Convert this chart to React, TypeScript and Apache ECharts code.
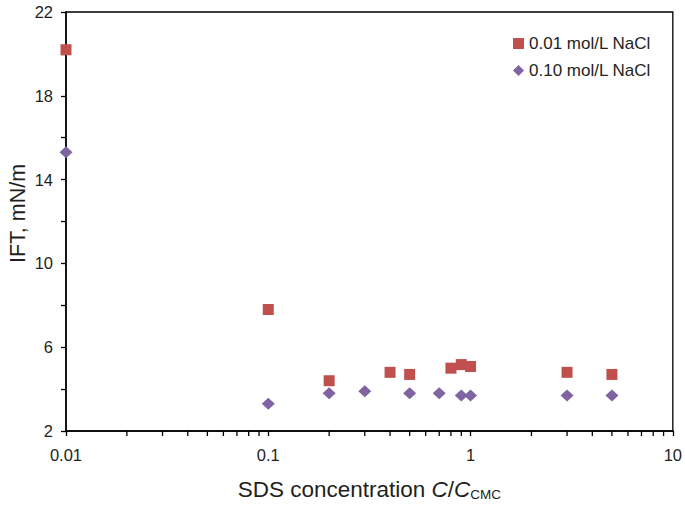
import React, { useEffect, useRef } from "react";
import * as echarts from "echarts";

const seriesNames = ["0.01 mol/L NaCl", "0.10 mol/L NaCl"];
const xLow = [0.01, 0.1, 0.2, 0.4, 0.5, 0.8, 0.9, 1.0, 3, 5];
const yLow = [20.2, 7.8, 4.4, 4.8, 4.7, 5.0, 5.17, 5.08, 4.8, 4.7];
const xHigh = [0.01, 0.1, 0.2, 0.3, 0.5, 0.7, 0.9, 1.0, 3, 5];
const yHigh = [15.3, 3.3, 3.8, 3.9, 3.8, 3.8, 3.7, 3.7, 3.7, 3.7];
const xMinorTicks = [
  0.02, 0.03, 0.04, 0.05, 0.06, 0.07, 0.08, 0.09,
  0.2, 0.3, 0.4, 0.5, 0.6, 0.7, 0.8, 0.9,
  2, 3, 4, 5, 6, 7, 8, 9,
];
const xMin = 0.01;
const xMax = 10;
const yMin = 2;
const yMax = 22;
const yInterval = 4;

const FONT = "Liberation Sans, Arial, Helvetica, sans-serif";
const TXT = "#231f20";

export default function App() {
  const ref = useRef<HTMLDivElement>(null);
  useEffect(() => {
    if (!ref.current) return;
    const chart = echarts.init(ref.current, undefined, { renderer: "svg" });
    const fmt = (v: number) => String(parseFloat(Number(v).toPrecision(4)));
    chart.setOption({
      animation: false,
      backgroundColor: "#fff",
      grid: {
        left: 66,
        right: 12,
        top: 12,
        bottom: 72,
        show: true,
        borderColor: "#000",
        borderWidth: 1.3,
        backgroundColor: "transparent",
      },
      legend: {
        orient: "vertical",
        left: 513,
        top: 35,
        padding: 0,
        itemGap: 10,
        itemWidth: 11,
        itemHeight: 11,
        textStyle: { fontFamily: FONT, fontSize: 17, color: TXT },
        data: [
          { name: seriesNames[0], icon: "rect" },
          { name: seriesNames[1], icon: "diamond" },
        ],
      },
      xAxis: {
        type: "log",
        logBase: 10,
        min: xMin,
        max: xMax,
        name: "{n|SDS concentration }{i|C}{n|/}{i|C}{s|CMC}",
        nameLocation: "middle",
        nameGap: 47,
        nameTextStyle: {
          rich: {
            n: { fontFamily: FONT, fontSize: 22.5, color: TXT },
            i: { fontFamily: FONT, fontSize: 22.5, fontStyle: "italic", color: TXT },
            s: { fontFamily: FONT, fontSize: 13.5, color: TXT, verticalAlign: "bottom", padding: [8, 0, 0, 0] },
          },
        },
        axisLine: { show: true, lineStyle: { color: "#000", width: 1.5 } },
        axisTick: { show: true, length: 5, lineStyle: { color: "#000", width: 1.3 } },
        minorTick: { show: false },
        splitLine: { show: false },
        axisLabel: {
          fontFamily: FONT,
          fontSize: 16.5,
          color: TXT,
          margin: 15,
          formatter: fmt,
        },
      },
      yAxis: {
        type: "value",
        min: yMin,
        max: yMax,
        interval: yInterval,
        axisLine: { show: true, lineStyle: { color: "#000", width: 1.5 } },
        axisTick: { show: true, length: 5, lineStyle: { color: "#000", width: 1.3 } },
        minorTick: { show: true, splitNumber: 2, length: 5, lineStyle: { color: "#000", width: 1.3 } },
        splitLine: { show: false },
        axisLabel: { fontFamily: FONT, fontSize: 16.5, color: TXT, margin: 13 },
      },
      graphic: [
        {
          type: "text",
          x: 18,
          y: 213.5,
          rotation: Math.PI / 2,
          style: {
            text: "IFT, mN/m",
            fontFamily: FONT,
            fontSize: 21.5,
            fill: TXT,
            textAlign: "center",
            textVerticalAlign: "middle",
          },
        },
      ],
      series: [
        {
          type: "custom",
          silent: true,
          clip: false,
          z: 1,
          data: xMinorTicks.map((v) => [v, yMin]),
          renderItem: (params: any, api: any) => {
            const p = api.coord([api.value(0), api.value(1)]);
            return {
              type: "line",
              shape: { x1: p[0], y1: p[1], x2: p[0], y2: p[1] + 5 },
              style: { stroke: "#000", lineWidth: 1.3 },
            };
          },
        },
        {
          name: seriesNames[0],
          type: "scatter",
          symbol: "rect",
          symbolSize: 11,
          clip: false,
          z: 3,
          itemStyle: { color: "#c0504d", opacity: 1 },
          data: xLow.map((x, i) => [x, yLow[i]]),
        },
        {
          name: seriesNames[1],
          type: "scatter",
          symbol: "diamond",
          symbolSize: [13, 12],
          clip: false,
          z: 3,
          itemStyle: { color: "#8064a2", opacity: 1 },
          data: xHigh.map((x, i) => [x, yHigh[i]]),
        },
      ],
    });
    return () => chart.dispose();
  }, []);
  return (
    <div
      ref={ref}
      style={{ position: "fixed", left: 0, top: 0, width: 685, height: 506 }}
    />
  );
}
